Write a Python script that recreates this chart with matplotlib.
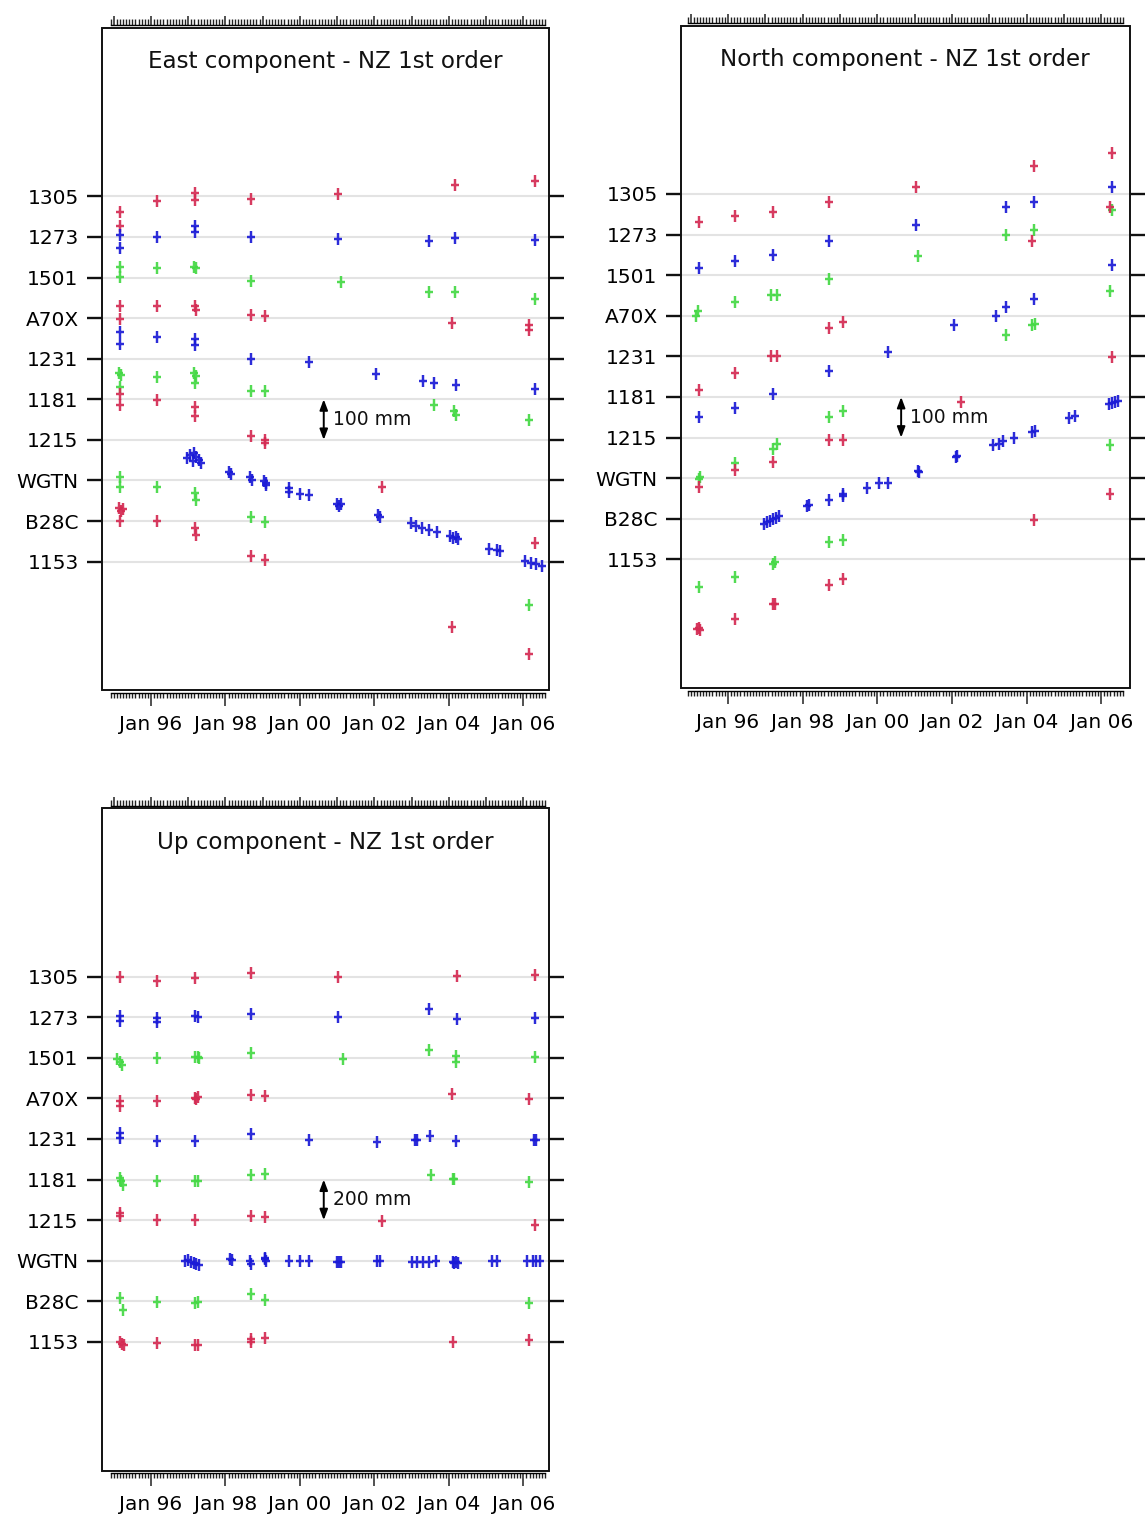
import numpy as np
import matplotlib
matplotlib.use("Agg")
import matplotlib.pyplot as plt
from matplotlib.path import Path
from matplotlib.patches import Rectangle
from matplotlib.ticker import FixedLocator, FuncFormatter, NullFormatter

# ---------------------------------------------------------------------------
# Stations, listed top to bottom, and their plotting colours
STATIONS = ["1305", "1273", "1501", "A70X", "1231", "1181", "1215", "WGTN", "B28C", "1153"]
STATION_COLORS = ["#d42a52", "#1a1ad6", "#44d844"] * 3 + ["#d42a52"]

# Displacements (mm) relative to each station's reference line, per station
EAST_YEAR = [
    [1995.17, 1995.17, 1996.16, 1997.18, 1997.18, 1998.69, 2001.03, 2004.17, 2006.32],
    [1995.17, 1995.17, 1996.16, 1997.18, 1997.18, 1998.69, 2001.03, 2003.47, 2004.17, 2006.32],
    [1995.17, 1995.17, 1996.16, 1997.16, 1997.22, 1998.69, 2001.10, 2003.47, 2004.17, 2006.32],
    [1995.17, 1995.17, 1996.16, 1997.18, 1997.20, 1998.69, 1999.06, 2004.08, 2006.16, 2006.16],
    [1995.17, 1995.17, 1996.16, 1997.18, 1997.18, 1998.69, 2000.25, 2002.05, 2003.30, 2003.60,
     2004.20, 2006.32],
    [1995.15, 1995.20, 1995.17, 1996.16, 1997.16, 1997.22, 1997.18, 1998.69, 1999.06, 2003.60,
     2004.14, 2004.20, 2006.16],
    [1995.17, 1995.17, 1996.16, 1997.18, 1997.18, 1998.69, 1999.06, 1999.06, 2002.20, 2006.32],
    [1996.98, 1997.05, 1997.12, 1997.20, 1997.28, 1997.35, 1997.15, 1998.10, 1998.14, 1998.65,
     1998.70, 1999.04, 1999.08, 1999.10, 1999.71, 1999.71, 2000.00, 2000.25, 2001.00, 2001.06,
     2001.10, 2002.10, 2002.16, 2002.98, 2003.13, 2003.28, 2003.47, 2003.67, 2004.02, 2004.10,
     2004.18, 2004.25, 2005.09, 2005.30, 2005.38, 2006.05, 2006.20, 2006.35, 2006.50],
    [1995.17, 1995.17, 1996.16, 1997.18, 1997.22, 1998.69, 1999.06, 2006.16],
    [1995.15, 1995.20, 1995.25, 1995.17, 1996.16, 1997.18, 1997.22, 1998.69, 1999.06, 2004.08,
     2006.16],
]
EAST_MM = [
    [-38, -74, -12, 8, -8, -6, 6, 27, 37],
    [6, -27, 0, 26, 12, 0, -5, -11, -2, -7],
    [26, 1, 24, 27, 23, -8, -11, -35, -35, -54],
    [29, -2, 31, 31, 19, 9, 6, -13, -18, -30],
    [66, 37, 53, 49, 33, 0, -8, -37, -54, -60, -65, -74],
    [65, 60, 31, 54, 64, 58, 39, 20, 20, -14, -30, -38, -51],
    [112, 85, 98, 80, 58, 10, 0, -8, -115, -254],
    [55, 62, 48, 58, 50, 44, 68, 22, 16, 8, 0, -2, -10, -5, -18, -28, -33, -36, -57, -62,
     -59, -86, -90, -105, -112, -118, -122, -128, -138, -142, -140, -145, -168, -172, -174,
     -198, -203, -206, -210],
    [109, 84, 84, 68, 53, 11, -3, -207],
    [133, 126, 130, 101, 101, 83, 66, 13, 5, -161, -227],
]

NORTH_YEAR = [
    [1995.21, 1996.19, 1997.20, 1998.71, 2001.03, 2004.20, 2006.30],
    [1995.21, 1996.19, 1997.20, 1998.71, 2001.03, 2003.46, 2004.20, 2006.30],
    [1995.19, 1995.15, 1996.19, 1997.15, 1997.30, 1998.71, 2001.10, 2003.46, 2004.20, 2006.30],
    [1995.21, 1996.19, 1997.15, 1997.30, 1998.71, 1999.07, 2004.15, 2006.25],
    [1995.21, 1996.19, 1997.20, 1998.71, 2000.28, 2002.05, 2003.18, 2003.46, 2004.20, 2006.30],
    [1995.21, 1995.25, 1996.19, 1997.20, 1997.30, 1998.71, 1999.07, 2003.46, 2004.15, 2004.22,
     2006.25],
    [1995.21, 1996.19, 1997.20, 1998.71, 1999.07, 2002.25, 2006.30],
    [1996.97, 1997.05, 1997.12, 1997.20, 1997.28, 1997.36, 1998.13, 1998.18, 1998.71, 1999.07,
     1999.09, 1999.73, 2000.05, 2000.28, 2001.08, 2001.12, 2002.10, 2002.15, 2003.09, 2003.25,
     2003.38, 2003.67, 2004.15, 2004.22, 2005.15, 2005.30, 2006.20, 2006.30, 2006.38, 2006.45],
    [1995.21, 1996.19, 1997.20, 1997.25, 1998.71, 1999.07, 2006.25],
    [1995.18, 1995.22, 1995.26, 1996.19, 1997.20, 1997.25, 1998.71, 1999.07, 2004.20, 2006.25],
]
NORTH_MM = [
    [-68, -55, -45, -20, 18, 70, 100],
    [-83, -64, -50, -17, 24, 67, 81, 118],
    [-89, -101, -66, -48, -48, -9, 47, 98, 111, 160],
    [-182, -141, -100, -100, -30, -16, 183, 268],
    [-150, -126, -93, -37, 12, 78, 100, 121, 141, 224],
    [-201, -196, -163, -127, -115, -49, -34, 152, 177, 180, 261],
    [-121, -80, -60, -5, -7, 88, 199],
    [-113, -108, -105, -101, -97, -93, -68, -65, -54, -39, -43, -23, -11, -11, 18, 15, 51,
     54, 81, 85, 92, 100, 113, 117, 148, 152, 182, 185, 188, 190],
    [-168, -143, -111, -107, -57, -52, 181],
    [-171, -169, -173, -148, -111, -111, -62, -48, 97, 160],
]

UP_YEAR = [
    [1995.17, 1996.16, 1997.19, 1998.68, 2001.03, 2004.22, 2006.32],
    [1995.17, 1995.17, 1996.16, 1996.16, 1997.19, 1997.25, 1998.68, 2001.03, 2003.47, 2004.22,
     2006.32],
    [1995.10, 1995.17, 1995.22, 1996.16, 1997.19, 1997.25, 1997.30, 1998.68, 2001.15, 2003.47,
     2004.20, 2004.20, 2006.32],
    [1995.17, 1995.17, 1996.16, 1997.19, 1997.22, 1997.25, 1998.68, 1999.05, 2004.08, 2006.16],
    [1995.17, 1995.17, 1996.16, 1997.19, 1998.68, 2000.25, 2002.07, 2003.10, 2003.14, 2003.49,
     2004.20, 2006.30, 2006.34],
    [1995.17, 1995.20, 1995.25, 1996.16, 1997.19, 1997.25, 1998.68, 1999.05, 2003.52, 2004.10,
     2004.15, 2006.16],
    [1995.17, 1995.17, 1996.16, 1997.19, 1998.68, 1999.05, 2002.20, 2006.32],
    [1996.92, 1997.00, 1997.08, 1997.15, 1997.22, 1997.30, 1998.12, 1998.18, 1998.65, 1998.68,
     1999.05, 1999.07, 1999.09, 1999.72, 2000.00, 2000.25, 2001.00, 2001.06, 2001.10, 2002.08,
     2002.14, 2003.00, 2003.15, 2003.30, 2003.47, 2003.65, 2004.10, 2004.15, 2004.20, 2004.25,
     2005.15, 2005.30, 2006.10, 2006.25, 2006.35, 2006.45],
    [1995.17, 1995.25, 1996.16, 1997.19, 1997.25, 1998.68, 1999.05, 2006.16],
    [1995.17, 1995.22, 1995.27, 1996.16, 1997.19, 1997.25, 1998.68, 1998.68, 1999.05, 2004.10,
     2006.16],
]
UP_MM = [
    [-3, -20, -7, 18, -3, 5, 8],
    [8, -16, -3, -25, 5, 3, 17, 0, 41, -8, -3],
    [-5, -21, -33, 0, 3, 6, 0, 25, -5, 41, 8, -20, 3],
    [-13, -38, -13, 2, -5, 8, 15, 11, 20, -5],
    [29, 5, -8, -8, 27, -3, -16, -3, -3, 13, -8, -3, -6],
    [8, -8, -25, -8, -8, -5, 21, 28, 21, 5, 2, -12],
    [36, 20, -1, 3, 20, 15, -5, -26],
    [0, 5, -5, -10, -15, -20, 8, 5, -3, -16, 8, 15, 0, 0, 0, 0, -5, -5, -8, 0, 0, -5, -5,
     -5, -8, -3, -8, -12, -5, -10, 0, 0, 0, 0, -3, 0],
    [16, -41, -3, -8, -5, 38, 5, -8],
    [-2, -10, -16, -8, -13, -15, 12, 0, 20, 0, 8],
]

TITLES = ["East component - NZ 1st order", "North component - NZ 1st order",
          "Up component - NZ 1st order"]
SCALE_LABELS = ["100 mm", "100 mm", "200 mm"]
SPACING_MM = [100, 100, 200]          # vertical gap between station lines
EVEN_YEARS = list(range(1996, 2007, 2))

# ---------------------------------------------------------------------------
plt.rcParams["font.family"] = ["DejaVu Sans"]
plt.rcParams["text.color"] = "#111111"

W, H = 1145, 1517
fig = plt.figure(figsize=(W / 100, H / 100), dpi=100)


def px_rect(l, t, r, b):
    return [l / W, 1 - b / H, (r - l) / W, (b - t) / H]


# cross with a slightly taller vertical arm (error-bar look)
PLUS = Path([(-0.72, 0), (0.72, 0), (0, -1), (0, 1)],
            [Path.MOVETO, Path.LINETO, Path.MOVETO, Path.LINETO])

months = np.arange(1994 + 11 / 12, 2006 + 7 / 12 + 1e-6, 1 / 12)
years = np.arange(1995, 2007)

panels = [
    dict(rect=px_rect(102, 28, 549, 690.5), xlim=(1994.684, 2006.69),
         year=EAST_YEAR, mm=EAST_MM),
    dict(rect=px_rect(681, 25.5, 1129.5, 688.3), xlim=(1994.74, 2006.76),
         year=NORTH_YEAR, mm=NORTH_MM),
    dict(rect=px_rect(102, 808.3, 549, 1470.7), xlim=(1994.684, 2006.69),
         year=UP_YEAR, mm=UP_MM),
]

for k, p in enumerate(panels):
    ax = fig.add_axes(p["rect"])
    sp = SPACING_MM[k]
    n = len(STATIONS)
    levels = [(n - 1 - i) * sp for i in range(n)]

    for i in range(n):
        yv = levels[i] + np.asarray(p["mm"][i], dtype=float)
        ax.plot(p["year"][i], yv, linestyle="none", marker=PLUS, ms=8.3, mew=1.75,
                color=STATION_COLORS[i], alpha=0.92, zorder=3)

    ax.set_xlim(*p["xlim"])
    ax.set_ylim(-3.175 * sp, (n - 1) * sp + 4.15 * sp)

    # station axis: ticks both sides, faint guide lines
    ax.set_yticks(levels)
    ax.set_yticklabels(STATIONS, fontsize=14.5)
    ax.tick_params(axis="y", which="major", left=True, right=True, direction="out",
                   length=10.5, width=1.7, pad=6.3, color="#111111")
    ax.yaxis.grid(True, color="#e3e3e3", lw=1.5)
    ax.set_axisbelow(True)

    # time axis at the bottom: monthly ticks, labels every second January
    ax.xaxis.set_major_locator(FixedLocator(EVEN_YEARS))
    ax.xaxis.set_minor_locator(FixedLocator(months))
    ax.xaxis.set_major_formatter(FuncFormatter(lambda v, pos: "Jan %02d" % (int(round(v)) % 100)))
    ax.xaxis.set_minor_formatter(NullFormatter())
    ax.tick_params(axis="x", which="major", direction="out", length=9.0, width=1.1,
                   labelsize=14.5, pad=6.5, color="#222222")
    ax.tick_params(axis="x", which="minor", direction="out", length=3.8, width=1.0,
                   color="#222222")

    for side in ("left", "right", "top"):
        ax.spines[side].set_visible(False)
    ax.spines["bottom"].set_position(("outward", 2.0))
    ax.spines["bottom"].set_bounds(months[0], months[-1])
    ax.spines["bottom"].set_linewidth(1.0)

    # time axis at the top: yearly and monthly ticks, no labels
    sec = ax.secondary_xaxis(1.0042)
    sec.xaxis.set_major_locator(FixedLocator(years))
    sec.xaxis.set_minor_locator(FixedLocator(months))
    sec.xaxis.set_major_formatter(NullFormatter())
    sec.xaxis.set_minor_formatter(NullFormatter())
    sec.tick_params(axis="x", which="major", direction="out", length=6.7, width=1.1,
                    color="#222222")
    sec.tick_params(axis="x", which="minor", direction="out", length=4.3, width=1.0,
                    color="#222222")
    sec.spines["top"].set_bounds(months[0], months[-1])
    sec.spines["top"].set_linewidth(1.0)

    # panel frame
    ax.add_patch(Rectangle((0, 0), 1, 1, transform=ax.transAxes, fill=False,
                           lw=1.4, ec="#111111", clip_on=False, zorder=6))

    ax.text(0.5, 0.939, TITLES[k], transform=ax.transAxes, ha="center",
            va="baseline", fontsize=16.6)

    # scale bar between the 1181 and 1215 lines
    x_bar = 2000.64
    top = levels[STATIONS.index("1181")]
    bot = levels[STATIONS.index("1215")]
    ax.annotate("", xy=(x_bar, top), xytext=(x_bar, bot),
                arrowprops=dict(arrowstyle="<|-|>,head_length=0.45,head_width=0.17",
                                color="black", lw=1.4, shrinkA=0, shrinkB=0,
                                mutation_scale=14))
    ax.annotate(SCALE_LABELS[k], xy=(x_bar, (top + bot) / 2), xytext=(6.6, 0),
                textcoords="offset points", ha="left", va="center", fontsize=13.5)

fig.savefig("out.png", dpi=100)
